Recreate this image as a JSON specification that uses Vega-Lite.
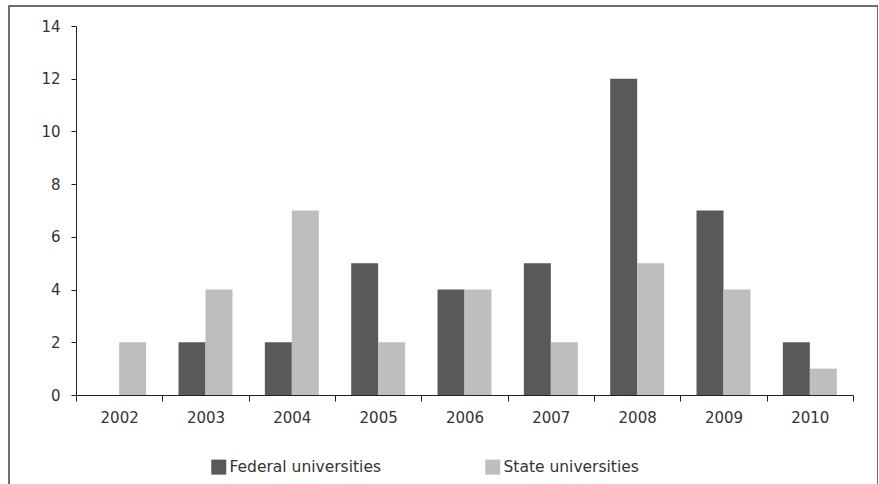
{
  "$schema": "https://vega.github.io/schema/vega-lite/v6.json",
  "autosize": "none",
  "padding": {"left": 9, "top": 6, "right": 0, "bottom": 0},
  "width": 869,
  "height": 490,
  "background": "white",
  "config": {
    "view": {"stroke": "#404040", "strokeWidth": 1.5},
    "font": "DejaVu Sans"
  },
  "data": {
    "values": [
      {"year": "2002", "type": "Federal universities", "count": 0},
      {"year": "2002", "type": "State universities", "count": 2},
      {"year": "2003", "type": "Federal universities", "count": 2},
      {"year": "2003", "type": "State universities", "count": 4},
      {"year": "2004", "type": "Federal universities", "count": 2},
      {"year": "2004", "type": "State universities", "count": 7},
      {"year": "2005", "type": "Federal universities", "count": 5},
      {"year": "2005", "type": "State universities", "count": 2},
      {"year": "2006", "type": "Federal universities", "count": 4},
      {"year": "2006", "type": "State universities", "count": 4},
      {"year": "2007", "type": "Federal universities", "count": 5},
      {"year": "2007", "type": "State universities", "count": 2},
      {"year": "2008", "type": "Federal universities", "count": 12},
      {"year": "2008", "type": "State universities", "count": 5},
      {"year": "2009", "type": "Federal universities", "count": 7},
      {"year": "2009", "type": "State universities", "count": 4},
      {"year": "2010", "type": "Federal universities", "count": 2},
      {"year": "2010", "type": "State universities", "count": 1}
    ]
  },
  "mark": {"type": "bar"},
  "encoding": {
    "x": {
      "field": "year",
      "type": "nominal",
      "scale": {"range": [67, 844], "paddingInner": 0, "paddingOuter": 0},
      "axis": {
        "title": null,
        "labelAngle": 0,
        "offset": -101,
        "tickBand": "extent",
        "tickSize": 6,
        "tickColor": "#231f20",
        "domainColor": "#231f20",
        "labelPadding": 9,
        "labelFontSize": 15,
        "labelColor": "#333333"
      }
    },
    "xOffset": {
      "field": "type",
      "type": "nominal",
      "sort": ["Federal universities", "State universities"],
      "scale": {"paddingOuter": 0.6, "paddingInner": 0}
    },
    "y": {
      "field": "count",
      "type": "quantitative",
      "scale": {"domain": [0, 14], "range": [389, 20], "nice": false},
      "axis": {
        "title": null,
        "offset": -67,
        "values": [0, 2, 4, 6, 8, 10, 12, 14],
        "grid": false,
        "tickSize": 5,
        "tickColor": "#231f20",
        "domainColor": "#231f20",
        "labelPadding": 11,
        "labelFontSize": 15,
        "labelColor": "#333333"
      }
    },
    "color": {
      "field": "type",
      "type": "nominal",
      "sort": ["Federal universities", "State universities"],
      "scale": {"range": ["#58595b", "#bcbec0"]},
      "legend": {
        "title": null,
        "orient": "none",
        "legendX": 202,
        "legendY": 453,
        "direction": "horizontal",
        "columns": 2,
        "padding": 0,
        "symbolType": "square",
        "symbolSize": 225,
        "symbolOpacity": 1,
        "symbolStrokeWidth": 0,
        "labelFontSize": 15.5,
        "labelColor": "#333333",
        "labelOffset": 3,
        "columnPadding": 104,
        "labelLimit": 300
      }
    }
  }
}
